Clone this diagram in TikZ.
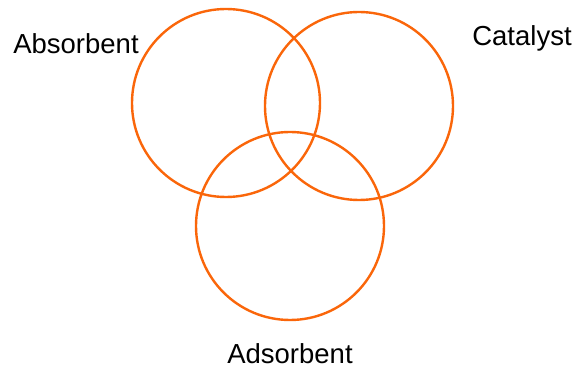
\documentclass[tikz,border=0pt]{standalone}
\usepackage{fontspec}
\setmainfont{Liberation Sans}
\definecolor{vorange}{RGB}{250,102,10}
\begin{document}
\begin{tikzpicture}[x=1pt,y=-1pt,
  ring/.style={draw=vorange,line width=2.4pt,circle,minimum size=188pt,inner sep=0pt},
  lbl/.style={font=\fontsize{27.5}{31}\selectfont,text=black,inner sep=0pt}]
\useasboundingbox (0,0) rectangle (574,366);
\node[ring] (absorb) at (226,103) {};
\node[ring] (cat) at (359,106) {};
\node[ring] (adsorb) at (290,226) {};
\node[lbl] (labsorb) at (76,44) {Absorbent};
\node[lbl] (lcat) at (522,38) {Catalyst};
\node[lbl] (ladsorb) at (290,354) {Adsorbent};
\end{tikzpicture}
\end{document}
